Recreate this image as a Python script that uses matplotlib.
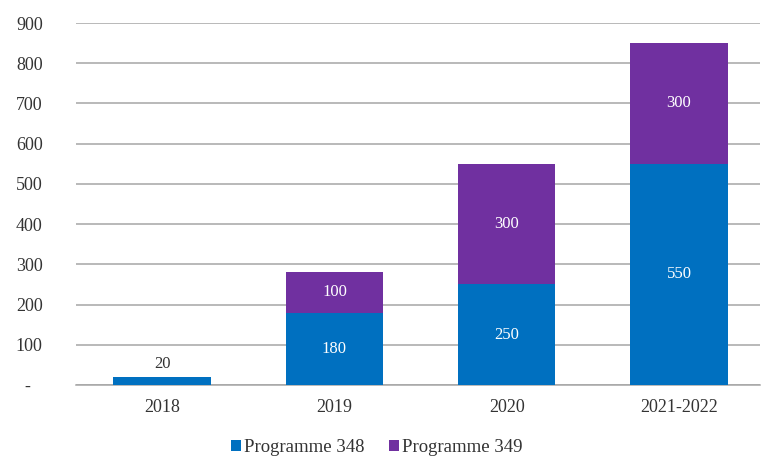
import matplotlib.pyplot as plt
import matplotlib.transforms as mtransforms
import numpy as np

categories = ['2018', '2019', '2020', '2021-2022']
prog348 = [20, 180, 250, 550]
prog349 = [0, 100, 300, 300]
yticks = [0, 100, 200, 300, 400, 500, 600, 700, 800, 900]
ylabels = ['-', '100', '200', '300', '400', '500', '600', '700', '800', '900']

blue = '#0070C0'
purple = '#7030A0'
grid = '#A6A6A6'
txt = '#333333'

plt.rcParams['font.family'] = ['Liberation Serif', 'DejaVu Serif']

fig = plt.figure(figsize=(7.61, 4.66), dpi=100)
ax = fig.add_axes([76 / 761, 81 / 466, 684 / 761, 362 / 466])

x = np.arange(len(categories))
w = 0.565
b1 = ax.bar(x, prog348, w, color=blue, zorder=3, label='Programme 348')
b2 = ax.bar(x, prog349, w, bottom=prog348, color=purple, zorder=3, label='Programme 349')

# values inside the bars, except the small 2018 bar which gets it on top
for i in range(len(categories)):
    if prog348[i] >= 100:
        ax.text(x[i], prog348[i] / 2, str(prog348[i]), ha='center', va='center',
                color='white', fontsize=12)
    else:
        ax.text(x[i], prog348[i] + 12, str(prog348[i]), ha='center', va='bottom',
                color=txt, fontsize=12)
    if prog349[i] > 0:
        ax.text(x[i], prog348[i] + prog349[i] / 2, str(prog349[i]), ha='center',
                va='center', color='white', fontsize=12)

ax.set_ylim(0, 900)
ax.set_xlim(-0.5, 3.47)
ax.set_yticks(yticks)
ax.set_yticklabels(ylabels, fontsize=13, color=txt)
ax.set_xticks(x)
ax.set_xticklabels(categories, fontsize=13, color=txt)
ax.tick_params(axis='both', length=0)
ax.tick_params(axis='y', pad=24)
ax.tick_params(axis='x', pad=10)
# the zero dash sits in the middle of the label column
zero = ax.get_yticklabels()[0]
zero.set_horizontalalignment('center')
zero.set_transform(zero.get_transform() + mtransforms.ScaledTranslation(-15 / 100, 0, fig.dpi_scale_trans))
ax.yaxis.grid(True, color=grid, linewidth=1.1, zorder=0)
for s in ['top', 'right', 'left']:
    ax.spines[s].set_visible(False)
ax.spines['bottom'].set_color(grid)
ax.spines['bottom'].set_linewidth(1.1)

leg = fig.legend(handles=[b1, b2], loc='lower center', bbox_to_anchor=(0.495, -0.015), ncol=2,
                 frameon=False, fontsize=13.5, handlelength=0.55, handleheight=0.55,
                 handletextpad=0.15, columnspacing=1.3)
for t in leg.get_texts():
    t.set_color(txt)

plt.savefig('out.png', dpi=100)
